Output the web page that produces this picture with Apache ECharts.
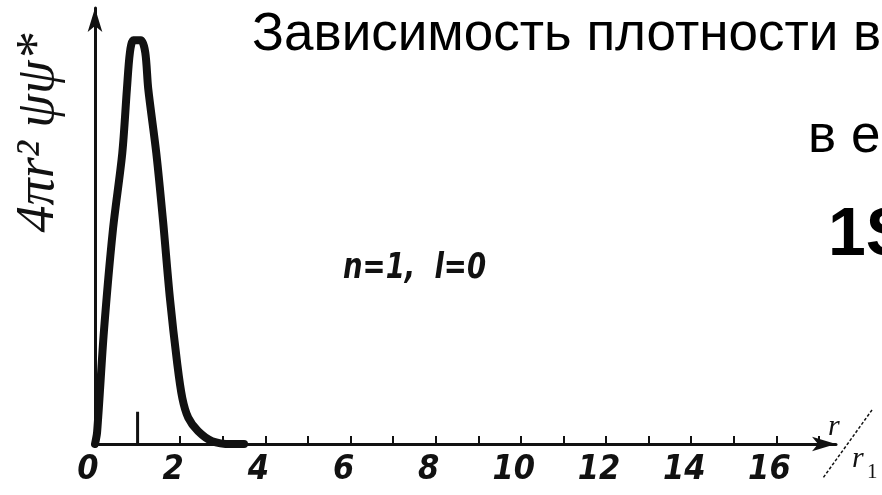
<!DOCTYPE html>
<html><head><meta charset="utf-8">
<script src="https://cdn.jsdelivr.net/npm/echarts@6/dist/echarts.min.js"></script>
<style>html,body{margin:0;padding:0;background:#fff}#c{width:882px;height:495px}</style>
</head><body><div id="c"></div>
<script>
// r / r1 (Bohr radii) and radial probability density 4πr²ψψ* (peak normalised to 1)
const rValues = [0, 0.05, 0.21, 0.42, 0.64, 0.75, 0.82, 0.9, 0.99, 1.08, 1.18, 1.25, 1.44, 1.6, 1.76, 1.93, 2.05, 2.19, 2.42, 2.75, 3.2, 3.5];
const densityValues = [0, 0.03, 0.28, 0.53, 0.72, 0.88, 0.97, 1.0, 1.0, 1.0, 0.97, 0.88, 0.72, 0.55, 0.36, 0.2, 0.114, 0.065, 0.032, 0.007, 0, 0];
const tickLabels = ['0', '2', '4', '6', '8', '10', '12', '14', '16'];
const peakMarkR = [1, 1];
const peakMarkV = [0, 0.08];

const titleText = 'Зависимость плотности в';
const subText = 'в е';
const orbitalText = '1S';
const quantumText = 'n=1,  l=0';
const yAxisTitle = '4πr² ψψ*';

const curve = rValues.map((r, i) => [r, densityValues[i]]);
const peakMark = peakMarkR.map((r, i) => [r, peakMarkV[i]]);

const chart = echarts.init(document.getElementById('c'), null, {renderer: 'canvas'});
const labelFont = '"Liberation Sans Narrow", "DejaVu Sans Condensed", "Liberation Sans", sans-serif';
chart.setOption({
  animation: false,
  backgroundColor: '#fff',
  grid: {left: 95, right: 46, top: 8, bottom: 51},
  xAxis: {
    type: 'value', min: 0, max: 17.4, interval: 1,
    axisLine: {show: true, lineStyle: {color: '#111', width: 3}, symbol: ['none', 'arrow'], symbolSize: [11, 24]},
    axisTick: {show: true, inside: true, length: 8, lineStyle: {color: '#111', width: 2}},
    splitLine: {show: false},
    axisLabel: {
      showMaxLabel: false,
      margin: 9,
      padding: [0, 14, 0, 0],
      fontFamily: labelFont, fontStyle: 'italic', fontWeight: 'bold', fontSize: 34, color: '#111',
      formatter: v => (tickLabels.indexOf(String(v)) >= 0 ? String(v) : '')
    }
  },
  yAxis: {
    type: 'value', min: 0, max: 1.08,
    axisLine: {show: true, lineStyle: {color: '#111', width: 3}, symbol: ['none', 'arrow'], symbolSize: [11, 24]},
    axisTick: {show: false}, axisLabel: {show: false}, splitLine: {show: false}
  },
  series: [
    {type: 'line', data: curve, smooth: 0.3, symbol: 'none', lineStyle: {color: '#111', width: 8, cap: 'round', join: 'round'}},
    {type: 'line', data: peakMark, symbol: 'none', lineStyle: {color: '#111', width: 3}}
  ],
  graphic: [
    {type: 'text', x: 252, y: 9, style: {text: titleText, font: '53px "Liberation Sans", Arial, sans-serif', fill: '#000'}},
    {type: 'text', x: 808, y: 111, style: {text: subText, font: '53px "Liberation Sans", Arial, sans-serif', fill: '#000'}},
    {type: 'text', x: 828, y: 202, style: {text: orbitalText, font: 'bold 68px "Liberation Sans", Arial, sans-serif', fill: '#000'}},
    {type: 'text', x: 343, y: 251, scaleX: 0.85, style: {text: quantumText, font: 'italic bold 36px ' + labelFont, fill: '#111'}},
    {type: 'text', x: 39, y: 133, rotation: Math.PI / 2, style: {text: yAxisTitle, font: 'italic 54px "Liberation Serif", "DejaVu Serif", serif', fill: '#111', align: 'center', verticalAlign: 'middle'}},
    {type: 'text', x: 828, y: 412, style: {text: 'r', font: 'italic 30px "Liberation Serif", serif', fill: '#111'}},
    {type: 'text', x: 852, y: 444, style: {text: 'r', font: 'italic 30px "Liberation Serif", serif', fill: '#111'}},
    {type: 'text', x: 867, y: 462, style: {text: '1', font: '21px "Liberation Serif", serif', fill: '#111'}},
    {type: 'line', shape: {x1: 872, y1: 410, x2: 823, y2: 478}, style: {stroke: '#111', lineWidth: 1.5, lineDash: [3, 2]}}
  ]
});
</script></body></html>
